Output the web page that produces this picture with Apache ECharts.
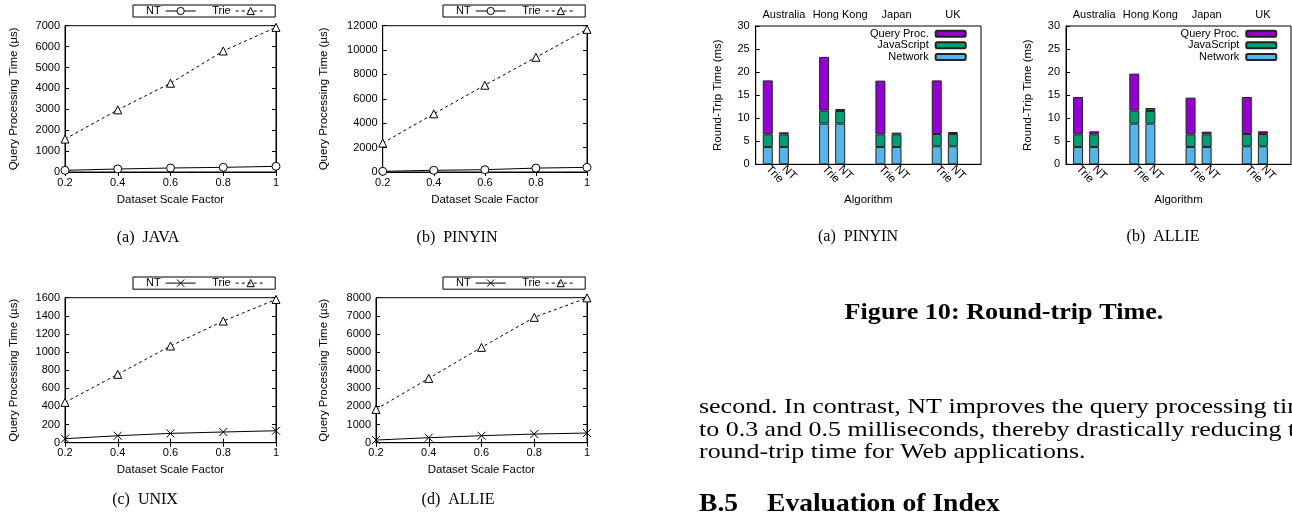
<!DOCTYPE html>
<html><head><meta charset="utf-8">
<script src="https://cdn.jsdelivr.net/npm/echarts@6/dist/echarts.min.js"></script>
<style>html,body{margin:0;padding:0;background:#fff}#c{width:1292px;height:518px}</style>
</head><body><div id="c"></div>
<script>
// ---------- data: query processing time (µs) vs dataset scale factor ----------
const scaleFactors = ['0.2', '0.4', '0.6', '0.8', '1'];
const javaNT = [80, 143, 191, 223, 270];
const javaTrie = [1575, 2975, 4248, 5791, 6920];
const pinyinNT = [55, 140, 190, 320, 380];
const pinyinTrie = [2373, 4773, 7118, 9409, 11700];
const unixNT = [44, 77, 103, 118, 132];
const unixTrie = [445, 754, 1067, 1342, 1581];
const allieNT = [147, 276, 386, 478, 533];
const allieTrie = [1839, 3549, 5260, 6915, 7990];
const lineYMax = [7000, 12000, 1600, 8000];
const lineYStep = [1000, 2000, 200, 1000];

// ---------- data: round-trip time (ms), order: Australia Trie, Australia NT, Hong Kong Trie, ... ----------
const countries = ['Australia', 'Hong Kong', 'Japan', 'UK'];
const algorithms = ['Trie', 'NT'];
const layerNames = ['Query Proc.', 'JavaScript', 'Network'];
const pinyinNetwork = [3.76, 3.76, 8.82, 8.82, 3.76, 3.76, 3.9, 3.9];
const pinyinJavaScript = [2.74, 2.74, 2.82, 2.75, 2.74, 2.74, 2.68, 2.68];
const pinyinQuery = [11.7, 0.44, 11.66, 0.43, 11.65, 0.37, 11.62, 0.42];
const allieNetwork = [3.76, 3.76, 8.82, 8.82, 3.76, 3.76, 3.9, 3.9];
const allieJavaScript = [2.74, 2.74, 2.82, 2.75, 2.74, 2.74, 2.68, 2.68];
const allieQuery = [8.1, 0.66, 8.03, 0.63, 7.96, 0.58, 8.02, 0.58];
const barYMax = 30, barYStep = 5;

// ---------- build ----------
const SANS = 'Liberation Sans', SERIF = 'Liberation Serif';
const grids = [], xAxes = [], yAxes = [], series = [], legends = [];
const black = '#000';
const lbl = (o) => Object.assign({color: black, fontFamily: SANS, fontSize: 11}, o || {});
const plain = v => String(v);

function addLineChart(c) {
  const gi = grids.length;
  grids.push({left: c.left, top: c.top, width: c.w, height: c.h, show: true, borderColor: black, borderWidth: 1});
  const xi = xAxes.length, yi = yAxes.length;
  const xBase = {type: 'category', data: scaleFactors, boundaryGap: false, gridIndex: gi,
    axisLine: {lineStyle: {color: black, width: 1}}, axisTick: {inside: true, length: 4, lineStyle: {color: black}}, splitLine: {show: false}};
  xAxes.push(Object.assign({}, xBase, {position: 'bottom', axisLabel: lbl({margin: 5}),
    name: 'Dataset Scale Factor', nameLocation: 'middle', nameGap: c.xGap, nameTextStyle: lbl({fontSize: 11.5})}));
  xAxes.push(Object.assign({}, xBase, {position: 'top', axisLabel: {show: false}}));
  const yBase = {type: 'value', min: 0, max: c.ymax, interval: c.ystep, gridIndex: gi,
    axisLine: {show: true, lineStyle: {color: black, width: 1}}, axisTick: {show: true, inside: true, length: 4, lineStyle: {color: black}}, splitLine: {show: false}};
  yAxes.push(Object.assign({}, yBase, {position: 'left', axisLabel: lbl({margin: 5, formatter: plain}),
    name: 'Query Processing Time (µs)', nameLocation: 'middle', nameGap: c.yGap, nameTextStyle: lbl({fontSize: 11.5})}));
  yAxes.push(Object.assign({}, yBase, {position: 'right', axisLabel: {show: false}}));
  const ntName = 'NT#' + gi, trieName = 'Trie#' + gi;
  const mk = {color: '#fff', borderColor: black, borderWidth: 1};
  series.push({type: 'line', name: ntName, xAxisIndex: xi, yAxisIndex: yi, data: c.nt,
    symbol: c.cross ? 'path://M0,0L10,10M10,0L0,10' : 'circle', symbolSize: 8,
    lineStyle: {color: black, width: 1}, itemStyle: c.cross ? {color: 'none', borderColor: black, borderWidth: 1} : mk, z: 3});
  series.push({type: 'line', name: trieName, xAxisIndex: xi, yAxisIndex: yi, data: c.trie,
    symbol: 'triangle', symbolSize: 8, lineStyle: {color: black, width: 1, type: [3, 3]}, itemStyle: mk, z: 3});
  legends.push({data: [ntName, trieName], left: c.legLeft, top: c.legTop, orient: 'horizontal', align: 'right',
    itemWidth: 30, itemHeight: 9, itemGap: 16, padding: [0, 9, 0, 13], borderColor: black, borderWidth: 1,
    itemStyle: {color: c.cross ? 'none' : '#fff', borderColor: black, borderWidth: 1},
    lineStyle: {width: 1, color: black},
    selectedMode: false, formatter: n => n.split('#')[0], textStyle: lbl({lineHeight: 12})});
}

function addBarChart(c) {
  const gi = grids.length;
  grids.push({left: c.left, top: c.top, width: c.w, height: c.h, show: true, borderColor: black, borderWidth: 1});
  // slot layout: 7 slots per country, Trie at slot 1, NT at slot 3 (positions only)
  const nSlots = countries.length * 7;
  const slot = (ci, ai) => ci * 7 + 1 + ai * 2;
  const bottomLabels = new Array(nSlots).fill(''), topLabels = new Array(nSlots).fill('');
  countries.forEach((cn, ci) => {
    algorithms.forEach((a, ai) => { bottomLabels[slot(ci, ai)] = a; });
    topLabels[slot(ci, 1)] = cn;
  });
  const toSlots = (vals) => {
    const arr = new Array(nSlots).fill(null);
    countries.forEach((cn, ci) => algorithms.forEach((a, ai) => { arr[slot(ci, ai)] = vals[ci * 2 + ai]; }));
    return arr;
  };
  const xi = xAxes.length, yi = yAxes.length;
  xAxes.push({type: 'category', data: bottomLabels, gridIndex: gi, position: 'bottom',
    axisLine: {lineStyle: {color: black}}, axisTick: {show: false},
    axisLabel: lbl({interval: 0, rotate: -45, margin: 3, fontSize: 11.5}),
    name: 'Algorithm', nameLocation: 'middle', nameGap: c.xGap, nameTextStyle: lbl({fontSize: 11.5})});
  xAxes.push({type: 'category', data: topLabels, gridIndex: gi, position: 'top',
    axisLine: {show: false}, axisTick: {show: false}, axisLabel: lbl({interval: 0, margin: 6})});
  yAxes.push({type: 'value', min: 0, max: barYMax, interval: barYStep, gridIndex: gi, position: 'left',
    axisLine: {show: true, lineStyle: {color: black}}, axisTick: {show: true, inside: true, length: 4, lineStyle: {color: black}},
    splitLine: {show: false}, axisLabel: lbl({margin: 6}),
    name: 'Round-Trip Time (ms)', nameLocation: 'middle', nameGap: c.yGap, nameTextStyle: lbl({fontSize: 11.5})});
  const colors = {'Network': '#56b4e9', 'JavaScript': '#009e73', 'Query Proc.': '#9400d3'};
  const vals = {'Network': c.network, 'JavaScript': c.js, 'Query Proc.': c.query};
  ['Network', 'JavaScript', 'Query Proc.'].forEach(ln => {
    const nm = ln + '#' + gi;
    series.push({type: 'bar', name: nm, xAxisIndex: xi, yAxisIndex: yi, stack: 's' + gi, data: toSlots(vals[ln]),
      barWidth: 10, itemStyle: {color: colors[ln], borderColor: '#222', borderWidth: 1}});
  });
  legends.push({data: layerNames.map(l => l + '#' + gi), right: c.legRight, top: c.legTop, orient: 'vertical', align: 'right',
    itemWidth: 30, itemHeight: 6, itemGap: 0, padding: 0, selectedMode: false,
    formatter: n => n.split('#')[0], textStyle: lbl({lineHeight: 11.7, padding: [0, 2, 0, 0]})});
}

addLineChart({left: 65, top: 25.7, w: 211, h: 146.3, ymax: lineYMax[0], ystep: lineYStep[0], nt: javaNT, trie: javaTrie,
  xGap: 22, yGap: 44.7, legLeft: 133, legTop: 5});
addLineChart({left: 382.7, top: 25.7, w: 204.3, h: 146.3, ymax: lineYMax[1], ystep: lineYStep[1], nt: pinyinNT, trie: pinyinTrie,
  xGap: 22, yGap: 52.4, legLeft: 443, legTop: 5});
addLineChart({left: 65, top: 297.7, w: 211, h: 145, ymax: lineYMax[2], ystep: lineYStep[2], nt: unixNT, trie: unixTrie, cross: true,
  xGap: 21, yGap: 44.7, legLeft: 133, legTop: 277});
addLineChart({left: 376, top: 297.7, w: 211, h: 145, ymax: lineYMax[3], ystep: lineYStep[3], nt: allieNT, trie: allieTrie, cross: true,
  xGap: 21, yGap: 45.7, legLeft: 443, legTop: 277});
addBarChart({left: 755.7, top: 26, w: 225.3, h: 138.3, network: pinyinNetwork, js: pinyinJavaScript, query: pinyinQuery,
  xGap: 30, yGap: 32, legRight: 325.3, legTop: 27.8});
addBarChart({left: 1066, top: 26, w: 225, h: 138.3, network: allieNetwork, js: allieJavaScript, query: allieQuery,
  xGap: 30, yGap: 32.3, legRight: 14.7, legTop: 27.8});

// ---------- page text ----------
const txt = (x, y, text, o, sx) => ({type: 'text', x: x, y: y, scaleX: sx || 1, silent: true,
  style: Object.assign({text: text, fill: black, fontFamily: SERIF, fontSize: 16, align: 'center', verticalAlign: 'middle'}, o || {})});
const graphics = [
  txt(148, 238, '(a)  JAVA'),
  txt(457, 238, '(b)  PINYIN'),
  txt(145, 500, '(c)  UNIX'),
  txt(458, 500, '(d)  ALLIE'),
  txt(858, 237, '(a)  PINYIN'),
  txt(1163, 237, '(b)  ALLIE'),
  txt(1004, 313, 'Figure 10: Round-trip Time.', {fontSize: 24, fontWeight: 'bold'}, 1.09),
  txt(699, 407, 'second. In contrast, NT improves the query processing time', {fontSize: 22, align: 'left'}, 1.18),
  txt(699, 430, 'to 0.3 and 0.5 milliseconds, thereby drastically reducing the', {fontSize: 22, align: 'left'}, 1.18),
  txt(699, 452, 'round-trip time for Web applications.', {fontSize: 22, align: 'left'}, 1.18),
  txt(699, 504, 'B.5', {fontSize: 26, fontWeight: 'bold', align: 'left'}, 1.06),
  txt(767, 504, 'Evaluation of Index', {fontSize: 26, fontWeight: 'bold', align: 'left'}, 1.06)
];

const chart = echarts.init(document.getElementById('c'), null, {renderer: 'canvas'});
chart.setOption({
  animation: false,
  backgroundColor: '#fff',
  textStyle: {fontFamily: SANS},
  grid: grids, xAxis: xAxes, yAxis: yAxes, series: series, legend: legends,
  graphic: graphics
});
</script></body></html>
